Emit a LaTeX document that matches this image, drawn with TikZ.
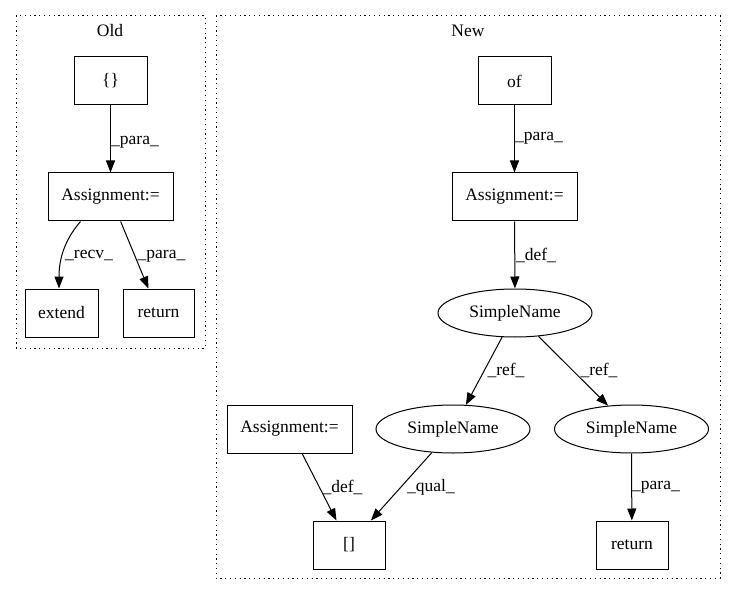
\documentclass[tikz,border=0pt]{standalone}
\usepackage{fontspec}
\setmainfont{Liberation Serif}
\usetikzlibrary{arrows.meta,shapes.geometric}
\tikzset{
  box/.style={draw, rectangle, line width=1pt, inner sep=0pt, minimum height=48pt, font=\fontsize{17.5}{20}\selectfont},
  oval/.style={draw, ellipse, line width=1pt, inner sep=0pt, minimum width=154pt, minimum height=48pt, font=\fontsize{17.5}{20}\selectfont},
  edge/.style={draw, line width=1pt, -{Triangle[length=12pt,width=9pt]}},
  lbl/.style={inner sep=0pt, font=\fontsize{17.5}{20}\selectfont},
  cluster/.style={draw, line width=1pt, dash pattern=on 1.2pt off 3.6pt},
  ctitle/.style={inner sep=0pt, font=\fontsize{17.5}{20}\selectfont}
}
\begin{document}
\begin{tikzpicture}[x=1pt,y=-1pt]
\useasboundingbox (0,0) rectangle (736,596);
% clusters
\draw[cluster] (16,16) rectangle (205,348);
\node[ctitle] (told) at (110,31) {Old};
\draw[cluster] (216,16) rectangle (720,578);
\node[ctitle] (tnew) at (468,31) {New};
% Old nodes
\node[box, minimum width=73pt] (brace) at (110.5,81) {\{\}};
\node[box, minimum width=125pt] (asg1) at (110.5,197) {Assignment:=};
\node[box, minimum width=73pt] (extend) at (61.5,313) {extend};
\node[box, minimum width=71pt] (ret1) at (158.5,313) {return};
% New nodes
\node[box, minimum width=73pt] (of) at (514.5,81) {of};
\node[box, minimum width=125pt] (asg2) at (514.5,197) {Assignment:=};
\node[oval] (sn1) at (515,313) {SimpleName};
\node[oval] (sn2) at (453,429) {SimpleName};
\node[oval] (sn3) at (631.5,429) {SimpleName};
\node[box, minimum width=125pt] (asg3) at (289.5,429) {Assignment:=};
\node[box, minimum width=72pt] (idx) at (349,545) {[]};
\node[box, minimum width=72pt] (ret2) at (632,545) {return};
% Old edges
\draw[edge] (brace) -- (asg1) node[lbl] at (135,142) {\_para\_};
\draw[edge] ([xshift=-30pt]asg1.south) .. controls (68,236) and (59,254) .. ([xshift=-2.5pt]extend.north)
  node[lbl] at (89,256) {\_recv\_};
\draw[edge] (asg1) -- (ret1) node[lbl] at (161.5,256) {\_para\_};
% New edges
\draw[edge] (of) -- (asg2) node[lbl] at (539,138) {\_para\_};
\draw[edge] (asg2) -- (sn1) node[lbl] at (536,255) {\_def\_};
\draw[edge] (sn1) -- (sn2) node[lbl] at (506,370) {\_ref\_};
\draw[edge] (sn1) -- (sn3) node[lbl] at (599,370) {\_ref\_};
\draw[edge] (asg3) -- (idx) node[lbl] at (342.5,487) {\_def\_};
\draw[edge] (sn2) -- (idx) node[lbl] at (431,487) {\_qual\_};
\draw[edge] (sn3.south) -- (ret2) node[lbl] at (656,487) {\_para\_};
\end{tikzpicture}
\end{document}
